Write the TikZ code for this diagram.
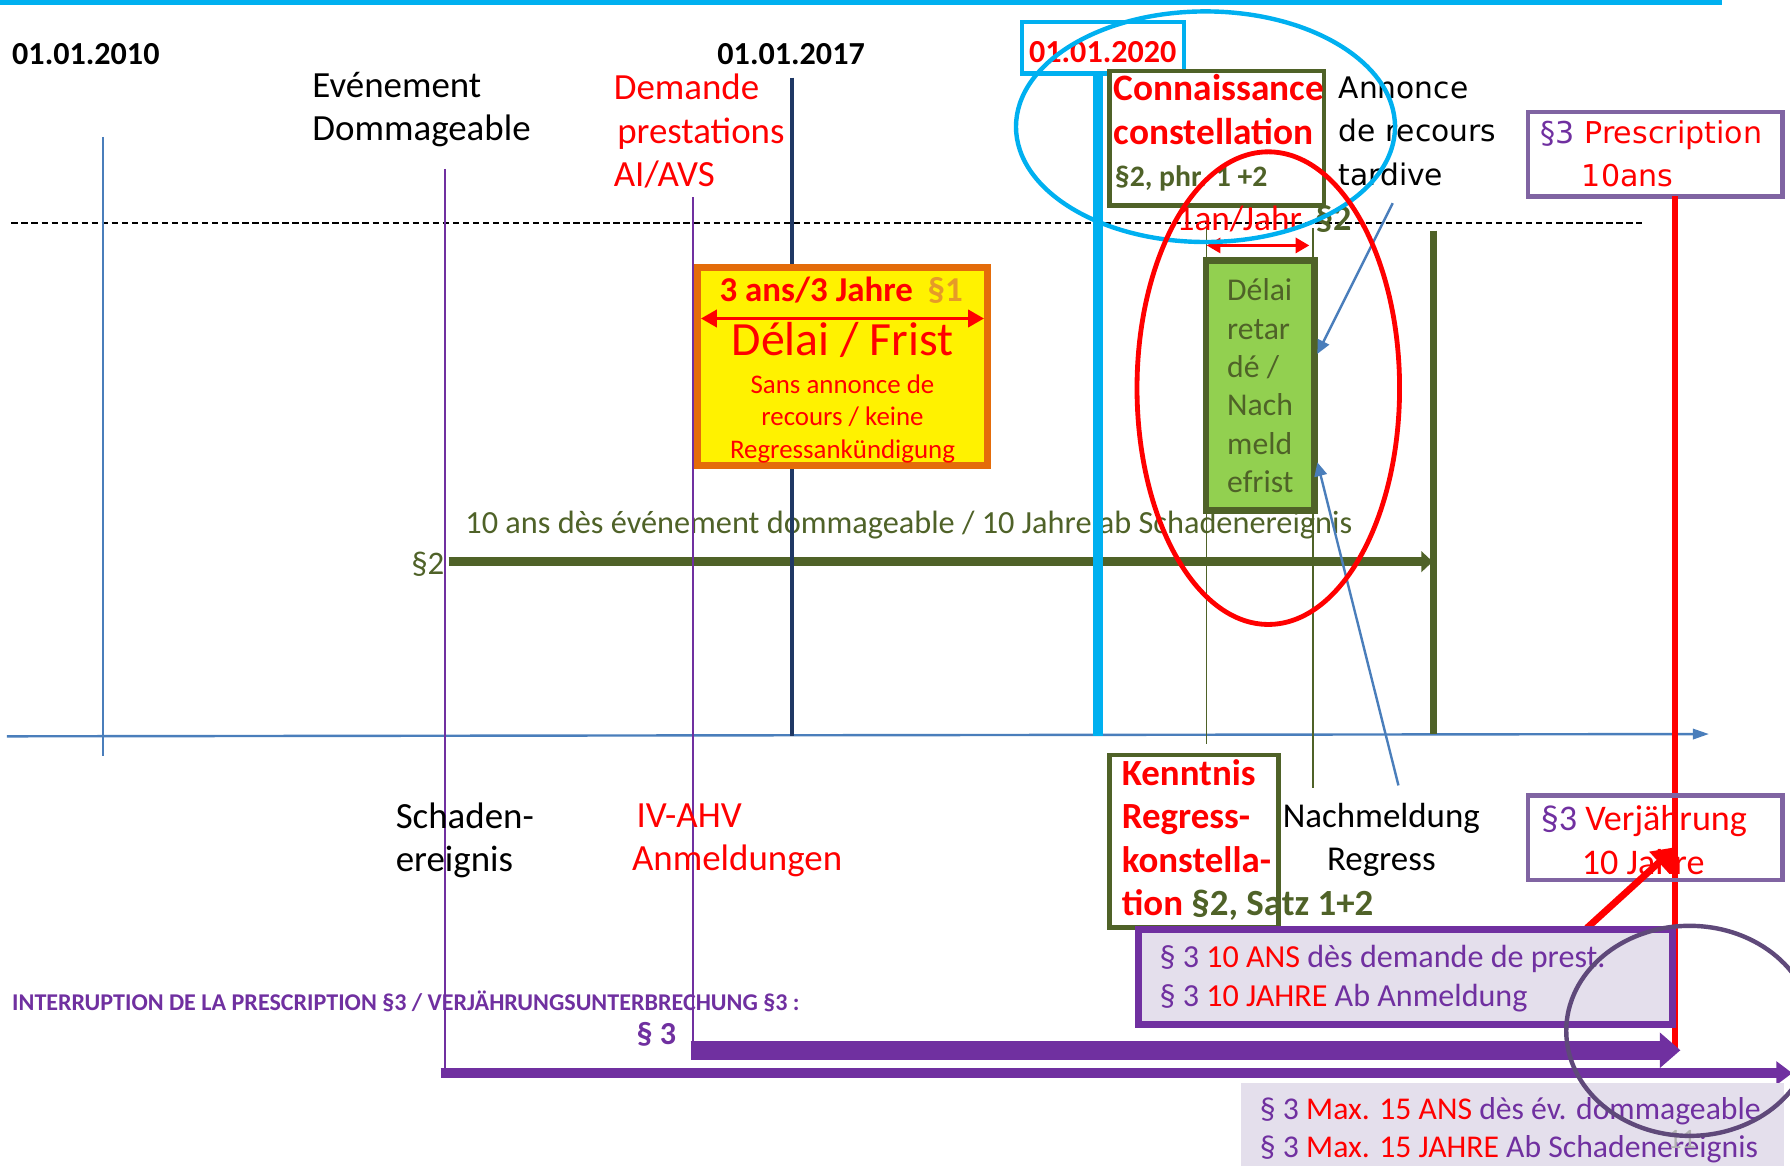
\documentclass[tikz,border=0pt]{standalone}
\usepackage{fontspec}
\setmainfont{Carlito}
\newfontfamily\verdana{DejaVu Sans}
\usetikzlibrary{arrows.meta,positioning}
\definecolor{skyline}{HTML}{00B0F0}
\definecolor{olivegr}{HTML}{4F6228}
\definecolor{lightgr}{HTML}{92D050}
\definecolor{violet3}{HTML}{7030A0}
\definecolor{lavend}{HTML}{E4DFEC}
\definecolor{boxlila}{HTML}{8064A2}
\definecolor{circlila}{HTML}{5F497A}
\definecolor{orangebd}{HTML}{E46C0A}
\definecolor{paraone}{HTML}{E69A28}
\definecolor{navyline}{HTML}{1F3864}
\definecolor{steel}{HTML}{4A7EBB}
\newcommand\fsz[2]{\fontsize{#1}{#2}\selectfont}

\begin{document}
\begin{tikzpicture}[x=0.1mm, y=-0.1mm,
        lbl/.style={inner sep=0, align=left, font=\fsz{9.2}{10.8}},
        datelbl/.style={inner sep=0, font=\fsz{8}{10}\bfseries},
        framebox/.style={draw=#1, line width=1.1pt, inner sep=0},
        tick/.style={line width=#1},
        bigarrow/.style={-{Triangle[length=#1]}}
        ]
        \useasboundingbox (0,0) rectangle (1568,1021);
        \clip (0,0) rectangle (1568,1021);
        \fill [skyline] (0,0) rectangle (1508,4.5);

        \node [datelbl, anchor=west] (d10) at (10,47) {01.01.2010};
        \node [datelbl] (d17) at (693,47) {01.01.2017};
        \node [framebox=skyline, minimum width=14.2mm, minimum height=4.5mm] (d20) at (966,42) {};
        \node [datelbl, text=red] (d20tx) at (966,46) {01.01.2020};

        \node [lbl, anchor=west] (evt) at (273,96) {Evénement\\Dommageable};
        \node [lbl, anchor=west, text=red] (dem) at (537,115) {Demande\\\hspace{0.3mm}prestations\\AI/AVS};
        \node [lbl, anchor=west, font=\verdana\fsz{7.4}{10.8}] (ann) at (1172,115) {Annonce\\de recours\\tardive};

        \draw [dash pattern=on 1.6pt off 0.9pt, line width=0.5pt] (10,195) -- (1438,195);

        \coordinate (axa) at (6,645);
        \coordinate (axb) at (1497,643);
        \draw [steel, line width=0.6pt, -{Triangle[length=1.4mm,width=0.9mm]}] (axa) -- (axb);

        \node [inner sep=0, anchor=east, font=\fsz{8.2}{10}, text=olivegr] (ptwo) at (390,494) {§2};
        \coordinate (tenend) at (1255,492);
        \draw [olivegr, line width=2.3pt, -{Triangle[length=1mm,width=1.8mm]}] (ptwo.east) ++(3,-2) -- (tenend);
        \node [inner sep=0, anchor=west, font=\fsz{8.05}{10}, text=olivegr] (tenans) at (407,460) {10 ans dès événement dommageable / 10 Jahre ab Schadenereignis};

        \coordinate (va) at (90,120);   \coordinate (vb) at (90,662);
        \coordinate (wa) at (390,148);  \coordinate (wb) at (390,940);
        \coordinate (ua) at (607,173);  \coordinate (ub) at (607,920);
        \coordinate (na) at (694,68);   \coordinate (nb) at (694,645);
        \coordinate (ca) at (962,62);   \coordinate (cb) at (962,645);
        \coordinate (oa) at (1057,200); \coordinate (ob) at (1057,652);
        \coordinate (pa) at (1150,200); \coordinate (pb) at (1150,690);
        \coordinate (qa) at (1256,202); \coordinate (qb) at (1256,643);
        \coordinate (ra) at (1467,172); \coordinate (rb) at (1467,920);
        \draw [steel, tick=0.6pt] (va) -- (vb);
        \begin{scope}[color=violet3, tick=0.5pt]
          \draw (wa) -- (wb);
          \draw (ua) -- (ub);
        \end{scope}
        \draw [navyline, tick=0.9pt] (na) -- (nb);
        \draw [skyline, tick=2.6pt] (ca) -- (cb);
        \begin{scope}[color=olivegr]
          \draw [tick=0.4pt] (oa) -- (ob);
          \draw [tick=0.4pt] (pa) -- (pb);
          \draw [tick=1.7pt] (qa) -- (qb);
        \end{scope}
        \draw [red, tick=1.4pt] (ra) -- (rb);

        \node [framebox=olivegr, fill=white, minimum width=18.8mm, minimum height=11.8mm] (conn) at (1066,121) {};
        \node [lbl, anchor=west, font=\fsz{9.3}{10.8}\bfseries, text=red] (conntx) at (975,96) {Connaissance\\constellation};
        \node [inner sep=0, anchor=west, font=\fsz{7.4}{8}\bfseries, text=olivegr] (connpar) at (976,156) {§2, phr. 1 +2};

        \node [framebox=boxlila, fill=white, minimum width=22.3mm, minimum height=7.4mm] (presc) at (1450,135) {};
        \node [lbl, anchor=west, font=\verdana\fsz{7.5}{10.8}, text=red] (presctx) at (1349,135) {\textcolor{violet3}{§3} Prescription\\\hspace{3.6mm}10ans};
        \draw [red, tick=1.4pt] (presc.south -| ra) -- (ra);

        \node [inner sep=0, anchor=west, font=\fsz{8.8}{10}, text=red] (oneyr) at (1030,192) {1an/Jahr};
        \node [inner sep=0, right=1mm of oneyr, font=\fsz{9}{10}\bfseries, text=olivegr] (oneyrpar) {§2};
        \coordinate (ya) at (1057,215);
        \coordinate (yb) at (1147,215);
        \draw [red, line width=0.9pt, {Triangle[length=1.2mm,width=1.3mm]}-{Triangle[length=1.2mm,width=1.3mm]}] (ya) -- (yb);

        \node [draw=orangebd, fill=yellow, line width=1.7pt, minimum width=25.4mm, minimum height=17.4mm] (frist) at (738,321) {};
        \node [inner sep=0, font=\fsz{8.7}{10}\bfseries, text=red] (trois) at (715,254) {3 ans/3 Jahre};
        \node [inner sep=0, font=\fsz{8.7}{10}\bfseries, text=paraone] (pone) at (828,254) {§1};
        \coordinate (fa) at (614,279);
        \coordinate (fb) at (862,279);
        \draw [red, line width=0.9pt, {Triangle[length=1.4mm,width=1.5mm]}-{Triangle[length=1.4mm,width=1.5mm]}] (fa) -- (fb);
        \node [inner sep=0, font=\fsz{11.9}{13}, text=red] (delai) at (738,298) {Délai / Frist};
        \node [inner sep=0, align=center, font=\fsz{6.7}{8}, text=red] (sans) at (738,367) {Sans annonce de\\recours / keine\\Regressankündigung};

        \node [draw=olivegr, fill=lightgr, line width=1.7pt, minimum width=9.5mm, minimum height=21.9mm, align=left, font=\fsz{7.9}{9.56}, text=olivegr] (nach) at (1104,338) {Délai\\retar\\dé /\\Nach\\meld\\efrist};

        \coordinate (tardy) at (1220,178);
        \coordinate (tardyend) at (1154,310);
        \coordinate (nachmtop) at (1225,688);
        \coordinate (nachmend) at (1154,405);
        \begin{scope}[color=steel, line width=0.6pt, -{Triangle[length=1.2mm,width=1.1mm]}]
          \draw (tardy) -- (tardyend);
          \draw (nachmtop) -- (nachmend);
        \end{scope}

        \node [lbl, anchor=west] (schad) at (346,736) {Schaden-\\ereignis};
        \node [lbl, anchor=west, text=red] (ivahv) at (553,736) {\hspace{0.4mm}IV-AHV\\Anmeldungen};
        \node [framebox=olivegr, minimum width=14.8mm, minimum height=15.1mm] (kenn) at (1046,737) {};
        \node [lbl, anchor=west, font=\fsz{9.2}{10.8}\bfseries, text=red] (kenntx) at (982,736) {Kenntnis\\Regress-\\konstella-\\tion \textcolor{olivegr}{§2, Satz 1+2}};
        \node [lbl, align=center, font=\fsz{8.7}{10.8}] (nachm) at (1210,736) {Nachmeldung\\Regress};

        \node [framebox=boxlila, minimum width=22.3mm, minimum height=7.4mm] (verj) at (1450,734) {};
        \node [lbl, anchor=west, font=\fsz{9}{10.8}, text=red] (verjtx) at (1349,736) {\textcolor{violet3}{§3} Verjährung\\\hspace{3.6mm}10 Jahre};
        \coordinate (rarra) at (1390,813);
        \coordinate (rarrb) at (1468,742);
        \draw [red, line width=1.7pt, -{Triangle[length=2mm,width=2.4mm]}] (rarra) -- (rarrb);

        \node [draw=violet3, fill=lavend, line width=1.7pt, minimum width=46.8mm, minimum height=8.3mm] (tenyr) at (1231,856) {};
        \node [lbl, anchor=west, font=\fsz{8}{9.7}, text=violet3] (tenyrtx) at (1015,857) {§ 3 \textcolor{red}{10 ANS} dès demande de prest.\\§ 3 \textcolor{red}{10 JAHRE} Ab Anmeldung};

        \node [inner sep=0, anchor=west, font=\fsz{6}{7}\bfseries, text=violet3] (interr) at (10,877) {INTERRUPTION DE LA PRESCRIPTION §3 / VERJÄHRUNGSUNTERBRECHUNG §3 :};
        \node [inner sep=0, font=\fsz{8}{10}\bfseries, text=violet3] (pthree) at (575,906) {§ 3};
        \coordinate (thka) at (605,920);
        \coordinate (thkb) at (1472,920);
        \draw [violet3, line width=4.7pt, -{Triangle[length=1.8mm,width=3mm]}] (thka) -- (thkb);
        \coordinate (thna) at (386,940);
        \coordinate (thnb) at (1570,940);
        \draw [violet3, line width=2.4pt, -{Triangle[length=1.4mm,width=2mm]}] (thna) -- (thnb);

        \node [fill=lavend, inner sep=0, anchor=north west, minimum width=47.6mm, minimum height=9mm] (maxyr) at (1086,948) {};
        \node [lbl, anchor=west, font=\fsz{7.9}{9.4}, text=violet3] (maxyrtx) at (1103,990) {§ 3 \textcolor{red}{Max. 15 ANS} dès év. dommageable\\§ 3 \textcolor{red}{Max. 15 JAHRE} Ab Schadenereignis};
        \node [inner sep=0, font=\fsz{7}{8}, text=gray!60] (pgno) at (1473,998) {11};

        \draw [skyline, line width=1.1pt] (1056,111) ellipse [x radius=166, y radius=101];
        \draw [red, line width=1.2pt] (1111,340) ellipse [x radius=115, y radius=207];
        \draw [circlila, line width=1.1pt] (1480,903) ellipse [x radius=108, y radius=92];
\end{tikzpicture}
\end{document}
